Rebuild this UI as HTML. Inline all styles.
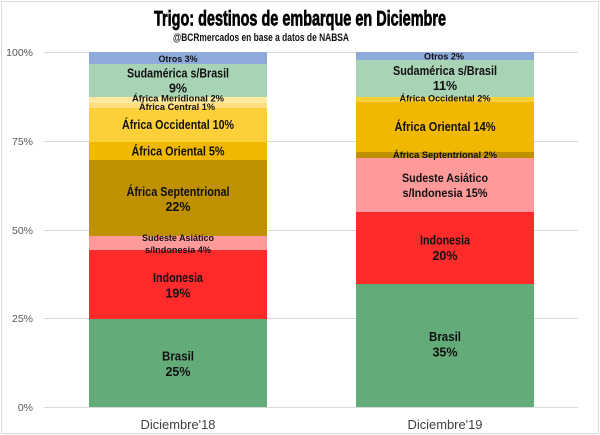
<!DOCTYPE html>
<html><head><meta charset="utf-8"><style>
html,body{margin:0;padding:0;background:#fff;}
svg{display:block;}
text{font-family:"Liberation Sans",sans-serif;}
.l{font-weight:bold;fill:#111;text-anchor:middle;}
.b{font-size:12.5px;}
.s{font-size:9px;}
.y{font-size:10.5px;fill:#595959;text-anchor:end;}
.x{font-size:12.5px;fill:#404040;text-anchor:middle;}
</style></head><body>
<svg width="600" height="435" viewBox="0 0 600 435" xmlns="http://www.w3.org/2000/svg">
<rect x="0" y="0" width="600" height="435" fill="#fff"/>
<rect x="1.5" y="1.5" width="597" height="432" fill="none" stroke="#d9d9d9" stroke-width="1"/>
<text x="300" y="25.5" text-anchor="middle" font-size="21" font-weight="bold" fill="#000" stroke="#000" stroke-width="0.7" textLength="292" lengthAdjust="spacingAndGlyphs">Trigo: destinos de embarque en Diciembre</text>
<text x="261" y="41" text-anchor="middle" font-size="11" font-weight="bold" fill="#111" textLength="176" lengthAdjust="spacingAndGlyphs">@BCRmercados en base a datos de NABSA</text>
<g stroke="#d9d9d9" stroke-width="1">
<line x1="44" y1="52.5" x2="578" y2="52.5"/>
<line x1="44" y1="141.5" x2="578" y2="141.5"/>
<line x1="44" y1="230.5" x2="578" y2="230.5"/>
<line x1="44" y1="318.5" x2="578" y2="318.5"/>
<line x1="44" y1="407.5" x2="578" y2="407.5"/>
</g>
<text class="y" x="33" y="56">100%</text>
<text class="y" x="33" y="145">75%</text>
<text class="y" x="33" y="234">50%</text>
<text class="y" x="33" y="322">25%</text>
<text class="y" x="33" y="411">0%</text>
<!-- Left bar -->
<rect x="89" y="52" width="178" height="12" fill="#8eaadb"/>
<rect x="89" y="64" width="178" height="33" fill="#a9d3b5"/>
<rect x="89" y="97" width="178" height="6" fill="#ffe8a0"/>
<rect x="89" y="103" width="178" height="5" fill="#ffde80"/>
<rect x="89" y="108" width="178" height="34" fill="#fdd03a"/>
<rect x="89" y="142" width="178" height="18" fill="#f0b800"/>
<rect x="89" y="160" width="178" height="76" fill="#bf9000"/>
<rect x="89" y="236" width="178" height="14" fill="#ff9a9a"/>
<rect x="89" y="250" width="178" height="69" fill="#ff2a2a"/>
<rect x="89" y="319" width="178" height="88" fill="#64ab7a"/>
<!-- Right bar -->
<rect x="356" y="52" width="178" height="8" fill="#8eaadb"/>
<rect x="356" y="60" width="178" height="37" fill="#a9d3b5"/>
<rect x="356" y="97" width="178" height="5" fill="#fdd03a"/>
<rect x="356" y="102" width="178" height="50" fill="#f0b800"/>
<rect x="356" y="152" width="178" height="6" fill="#bf9000"/>
<rect x="356" y="158" width="178" height="54" fill="#ff9a9a"/>
<rect x="356" y="212" width="178" height="72" fill="#ff2a2a"/>
<rect x="356" y="284" width="178" height="123" fill="#64ab7a"/>
<!-- Left labels -->
<text class="l s" x="178" y="62" textLength="39" lengthAdjust="spacingAndGlyphs">Otros 3%</text>
<text class="l b" x="178" y="77.5" textLength="102" lengthAdjust="spacingAndGlyphs">Sudamérica s/Brasil</text>
<text class="l b" x="178" y="92.5">9%</text>
<text class="l s" x="178" y="101.5" textLength="92" lengthAdjust="spacingAndGlyphs">África Meridional 2%</text>
<text class="l s" x="177" y="110" textLength="76" lengthAdjust="spacingAndGlyphs">África Central 1%</text>
<text class="l b" x="178" y="129" textLength="112" lengthAdjust="spacingAndGlyphs">África Occidental 10%</text>
<text class="l b" x="178" y="155.5" textLength="93" lengthAdjust="spacingAndGlyphs">África Oriental 5%</text>
<text class="l b" x="178" y="196" textLength="103" lengthAdjust="spacingAndGlyphs">África Septentrional</text>
<text class="l b" x="178" y="211">22%</text>
<text class="l" x="178" y="241" font-size="9.5" textLength="72" lengthAdjust="spacingAndGlyphs">Sudeste Asiático</text>
<text class="l" x="178" y="253" font-size="9.5" textLength="66" lengthAdjust="spacingAndGlyphs">s/Indonesia 4%</text>
<text class="l b" x="178" y="282" textLength="50" lengthAdjust="spacingAndGlyphs">Indonesia</text>
<text class="l b" x="178" y="297.5">19%</text>
<text class="l b" x="178" y="360.5" textLength="32" lengthAdjust="spacingAndGlyphs">Brasil</text>
<text class="l b" x="178" y="376">25%</text>
<!-- Right labels -->
<text class="l s" x="444" y="59.5" textLength="40" lengthAdjust="spacingAndGlyphs">Otros 2%</text>
<text class="l b" x="445" y="75" textLength="104" lengthAdjust="spacingAndGlyphs">Sudamérica s/Brasil</text>
<text class="l b" x="445" y="90">11%</text>
<text class="l s" x="445" y="101.5" textLength="91" lengthAdjust="spacingAndGlyphs">África Occidental 2%</text>
<text class="l b" x="445" y="131" textLength="101" lengthAdjust="spacingAndGlyphs">África Oriental 14%</text>
<text class="l s" x="445" y="158" textLength="104" lengthAdjust="spacingAndGlyphs">África Septentrional 2%</text>
<text class="l" x="445" y="182" font-size="12" textLength="86" lengthAdjust="spacingAndGlyphs">Sudeste Asiático</text>
<text class="l" x="445" y="197" font-size="12" textLength="85" lengthAdjust="spacingAndGlyphs">s/Indonesia 15%</text>
<text class="l b" x="445" y="244.5" textLength="50" lengthAdjust="spacingAndGlyphs">Indonesia</text>
<text class="l b" x="445" y="260">20%</text>
<text class="l b" x="445" y="341" textLength="32" lengthAdjust="spacingAndGlyphs">Brasil</text>
<text class="l b" x="445" y="356.5">35%</text>
<!-- X labels -->
<text class="x" x="178" y="429" textLength="75" lengthAdjust="spacingAndGlyphs">Diciembre'18</text>
<text class="x" x="445" y="429" textLength="75" lengthAdjust="spacingAndGlyphs">Diciembre'19</text>
</svg>
</body></html>
